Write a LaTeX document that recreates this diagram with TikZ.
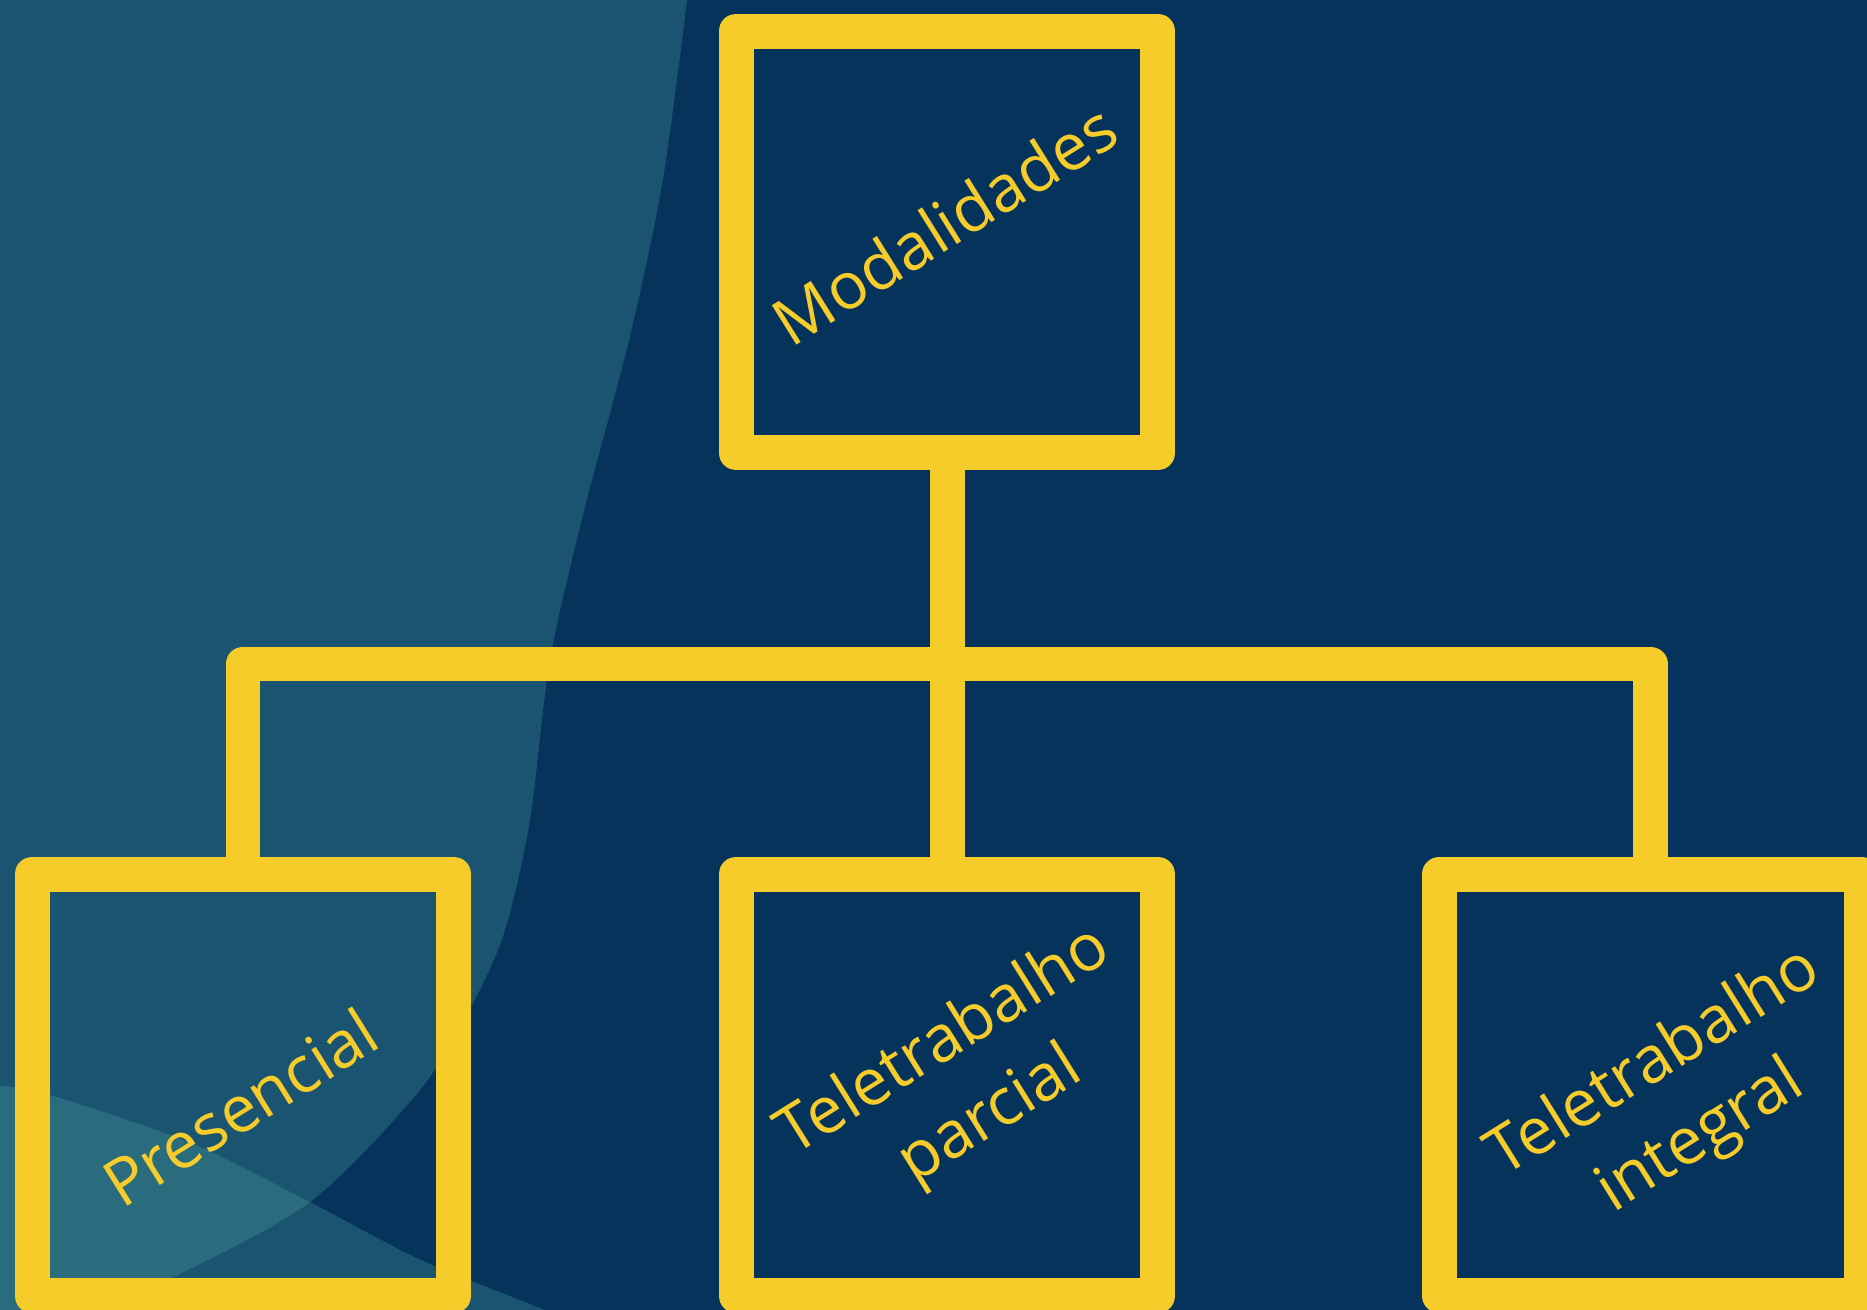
\documentclass[tikz,border=0pt]{standalone}
\usepackage{fontspec}
\setmainfont{Open Sans}
\definecolor{navy}{RGB}{5,51,91}
\definecolor{gold}{RGB}{245,204,42}
\definecolor{sea}{RGB}{78,161,161}
\tikzset{
  box/.style={draw=gold, line width=0.7cm, line join=round, minimum width=8.44cm, minimum height=8.44cm, inner sep=0pt},
  txt/.style={text=gold, rotate=32, align=center, inner sep=0pt, font=\fontsize{37}{50}\selectfont},
  conn/.style={draw=gold, line width=0.7cm, line join=round}
}
\begin{document}
\begin{tikzpicture}[x=0.02cm, y=-0.02cm]
\useasboundingbox (0,0) rectangle (1867,1310);
\clip (0,0) rectangle (1867,1310);
\fill[navy] (0,0) rectangle (1867,1310);
\fill[sea, fill opacity=0.3] (-20,-20) -- (690,-20) -- plot[smooth] coordinates {(687,0) (663,179) (630,336) (583,515) (550,660) (530,820) (505,930) (473,1003) (420,1090) (310,1202) (172,1278) (60,1330)} -- (-20,1340) -- cycle;
\fill[sea, fill opacity=0.3] (-20,1340) -- (-20,1086) -- plot[smooth] coordinates {(0,1086) (50,1095) (191,1143) (306,1200) (421,1260) (544,1310) (600,1340)} -- cycle;
\node[box] (mod) at (947,242) {};
\node[box] (pres) at (243,1085) {};
\node[box] (parc) at (947,1085) {};
\node[box] (integ) at (1650.5,1085) {};
\coordinate (bar) at (947,664);
\draw[conn] (mod.south) -- (parc.north);
\draw[conn] (pres.north) |- (bar) -| (integ.north);
\node[txt] (mod-t) at (944,224) {Modalidades};
\node[txt] (pres-t) at (240,1107) {Presencial};
\node[txt] (parc-t) at (968,1080) {Teletrabalho\\parcial};
\node[txt] (integ-t) at (1678,1101) {Teletrabalho\\integral};
\end{tikzpicture}
\end{document}
